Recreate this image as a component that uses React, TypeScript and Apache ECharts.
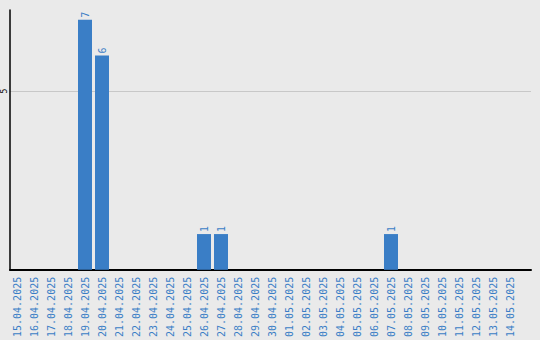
import React, { useEffect, useRef } from "react";
import * as echarts from "echarts";

const dates = [
  "15.04.2025", "16.04.2025", "17.04.2025", "18.04.2025", "19.04.2025",
  "20.04.2025", "21.04.2025", "22.04.2025", "23.04.2025", "24.04.2025",
  "25.04.2025", "26.04.2025", "27.04.2025", "28.04.2025", "29.04.2025",
  "30.04.2025", "01.05.2025", "02.05.2025", "03.05.2025", "04.05.2025",
  "05.05.2025", "06.05.2025", "07.05.2025", "08.05.2025", "09.05.2025",
  "10.05.2025", "11.05.2025", "12.05.2025", "13.05.2025", "14.05.2025",
];

const counts = [
  0, 0, 0, 0, 7,
  6, 0, 0, 0, 0,
  0, 1, 1, 0, 0,
  0, 0, 0, 0, 0,
  0, 0, 1, 0, 0,
  0, 0, 0, 0, 0,
];

const yMax = 7.27;
const yInterval = 5;

const BLUE = "#3a7ec6";
const MONO = "'DejaVu Sans Mono', monospace";

export default function App() {
  const ref = useRef<HTMLDivElement>(null);

  useEffect(() => {
    if (!ref.current) return;
    const chart = echarts.init(ref.current, null, { renderer: "svg" });
    chart.setOption({
      animation: false,
      backgroundColor: "#eaeaea",
      grid: [
        { left: 8.5, top: 10, width: 510, height: 260 },
        { left: 10, top: 10, right: 9, height: 260 },
      ],
      xAxis: [
        {
          type: "category",
          gridIndex: 0,
          data: dates,
          axisLine: { show: false },
          axisTick: { show: false },
          axisLabel: {
            rotate: 90,
            margin: 7,
            color: BLUE,
            fontFamily: MONO,
            fontSize: 10,
            interval: 0,
          },
        },
        {
          type: "value",
          gridIndex: 1,
          min: 0,
          max: 1,
          axisLine: { show: true, lineStyle: { color: "#000", width: 2 } },
          axisTick: { show: false },
          axisLabel: { show: false },
          splitLine: { show: false },
        },
      ],
      yAxis: [
        {
          type: "value",
          gridIndex: 0,
          min: 0,
          max: yMax,
          show: false,
        },
        {
          type: "value",
          gridIndex: 1,
          min: 0,
          max: yMax,
          interval: yInterval,
          axisLine: { show: true, lineStyle: { color: "#000", width: 1.5 } },
          axisTick: { show: false },
          axisLabel: {
            rotate: 90,
            margin: 2,
            fontSize: 8,
            color: "#000",
            fontFamily: MONO,
            showMinLabel: false,
            showMaxLabel: false,
          },
          splitLine: {
            show: true,
            showMinLine: false,
            showMaxLine: false,
            lineStyle: { color: "#c8c8c8", width: 1 },
          },
        },
      ],
      series: [
        {
          type: "bar",
          xAxisIndex: 0,
          yAxisIndex: 0,
          data: counts,
          barWidth: 14,
          itemStyle: { color: BLUE },
          label: {
            show: true,
            position: "top",
            rotate: 90,
            align: "left",
            verticalAlign: "middle",
            distance: 2,
            color: BLUE,
            fontFamily: MONO,
            fontSize: 10,
            formatter: (p: any) => (p.value ? String(p.value) : ""),
          },
        },
      ],
    });
    return () => chart.dispose();
  }, []);

  return (
    <div
      ref={ref}
      style={{ position: "absolute", left: 0, top: 0, width: 540, height: 340 }}
    />
  );
}
